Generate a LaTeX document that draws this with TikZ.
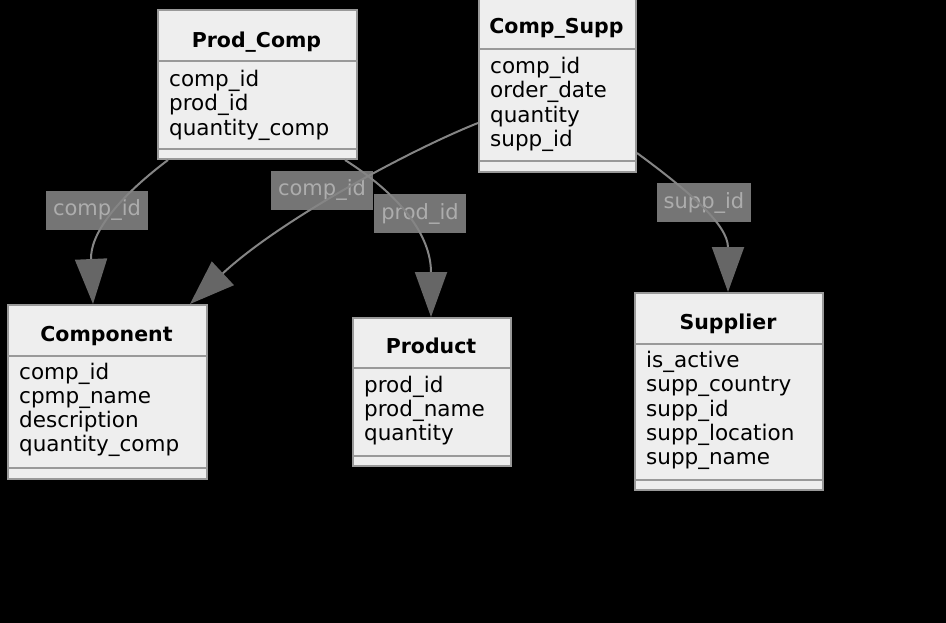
\documentclass[tikz,border=0pt]{standalone}
\usepackage{fontspec}
\setmainfont{DejaVu Sans}
\usetikzlibrary{arrows.meta,calc}
\definecolor{boxfill}{HTML}{EEEEEE}
\definecolor{boxline}{HTML}{999999}
\definecolor{edgeline}{HTML}{858585}
\definecolor{tipfill}{HTML}{666666}
\definecolor{labelfill}{HTML}{757575}
\definecolor{labeltext}{HTML}{ADADAD}

\tikzset{
  entity/.style={draw=boxline,fill=boxfill,line width=2pt,anchor=north west,inner sep=0pt},
  divider/.style={draw=boxline,line width=2pt},
  etitle/.style={font=\bfseries\fontsize{20.5}{24}\selectfont,anchor=base},
  attr/.style={font=\fontsize{21.5}{24}\selectfont,anchor=base west,inner sep=0pt},
  rel/.style={draw=edgeline,line width=2pt,-{Triangle[length=45pt,width=32pt,color=tipfill]}},
  rellabel/.style={fill=labelfill,text=labeltext,font=\fontsize{21}{24}\selectfont,
    inner xsep=7pt,inner ysep=9.5pt,text height=15pt,text depth=5pt}
}

\begin{document}
\begin{tikzpicture}[x=1pt,y=-1pt]
  \useasboundingbox[fill=black] (0,0) rectangle (946,623);

  % Prod_Comp
  \node[entity,minimum width=199,minimum height=149] (pc) at (157,9) {};
  \node[etitle] (pct) at (256.5,47.5) {Prod\_Comp};
  \draw[divider] (157,61) -- (356,61);
  \draw[divider] (157,149) -- (356,149);
  \node[attr] (pc1) at (169,86.5) {comp\_id};
  \node[attr] (pc2) at (169,110.8) {prod\_id};
  \node[attr] (pc3) at (169,135.1) {quantity\_comp};

  % Comp_Supp
  \node[entity,minimum width=157,minimum height=174] (cs) at (478,-3) {};
  \node[etitle] (cst) at (556.5,34) {Comp\_Supp};
  \draw[divider] (478,49) -- (635,49);
  \draw[divider] (478,161) -- (635,161);
  \node[attr] (cs1) at (490,73.5) {comp\_id};
  \node[attr] (cs2) at (490,97.8) {order\_date};
  \node[attr] (cs3) at (490,122.1) {quantity};
  \node[attr] (cs4) at (490,146.4) {supp\_id};

  % Component
  \node[entity,minimum width=199,minimum height=174] (co) at (7,304) {};
  \node[etitle] (cot) at (106.5,341) {Component};
  \draw[divider] (7,356) -- (206,356);
  \draw[divider] (7,468) -- (206,468);
  \node[attr] (co1) at (19,379) {comp\_id};
  \node[attr] (co2) at (19,403.3) {cpmp\_name};
  \node[attr] (co3) at (19,427.6) {description};
  \node[attr] (co4) at (19,451.9) {quantity\_comp};

  % Product
  \node[entity,minimum width=158,minimum height=148] (pr) at (352,317) {};
  \node[etitle] (prt) at (431,353) {Product};
  \draw[divider] (352,368) -- (510,368);
  \draw[divider] (352,456) -- (510,456);
  \node[attr] (pr1) at (364,392) {prod\_id};
  \node[attr] (pr2) at (364,416.3) {prod\_name};
  \node[attr] (pr3) at (364,440.6) {quantity};

  % Supplier
  \node[entity,minimum width=188,minimum height=197] (su) at (634,292) {};
  \node[etitle] (sut) at (728,329) {Supplier};
  \draw[divider] (634,344) -- (822,344);
  \draw[divider] (634,480) -- (822,480);
  \node[attr] (su1) at (646,367.5) {is\_active};
  \node[attr] (su2) at (646,391.8) {supp\_country};
  \node[attr] (su3) at (646,416.1) {supp\_id};
  \node[attr] (su4) at (646,440.4) {supp\_location};
  \node[attr] (su5) at (646,464.7) {supp\_name};

  % relation labels
  \node[rellabel] (l1) at (97,210.5) {comp\_id};
  \node[rellabel] (l2) at (322,191) {comp\_id};
  \node[rellabel] (l3) at (420,214) {prod\_id};
  \node[rellabel] (l4) at (704,203) {supp\_id};

  % relations
  \draw[rel] ($(pc.south west)+(11,0)$) .. controls (115,200) and (90,235) .. ($(co.north west)+(86,0)$);
  \draw[rel] ($(cs.north west)+(0,126)$) .. controls (410,150) and (280,220) .. ($(co.north west)+(183,0)$);
  \draw[rel] ($(pc.south west)+(188,0)$) .. controls (400,195) and (431,235) .. ($(pr.north west)+(79,0)$);
  \draw[rel] ($(cs.north east)+(0,156)$) .. controls (690,192) and (728,225) .. ($(su.north west)+(94,0)$);
\end{tikzpicture}
\end{document}
